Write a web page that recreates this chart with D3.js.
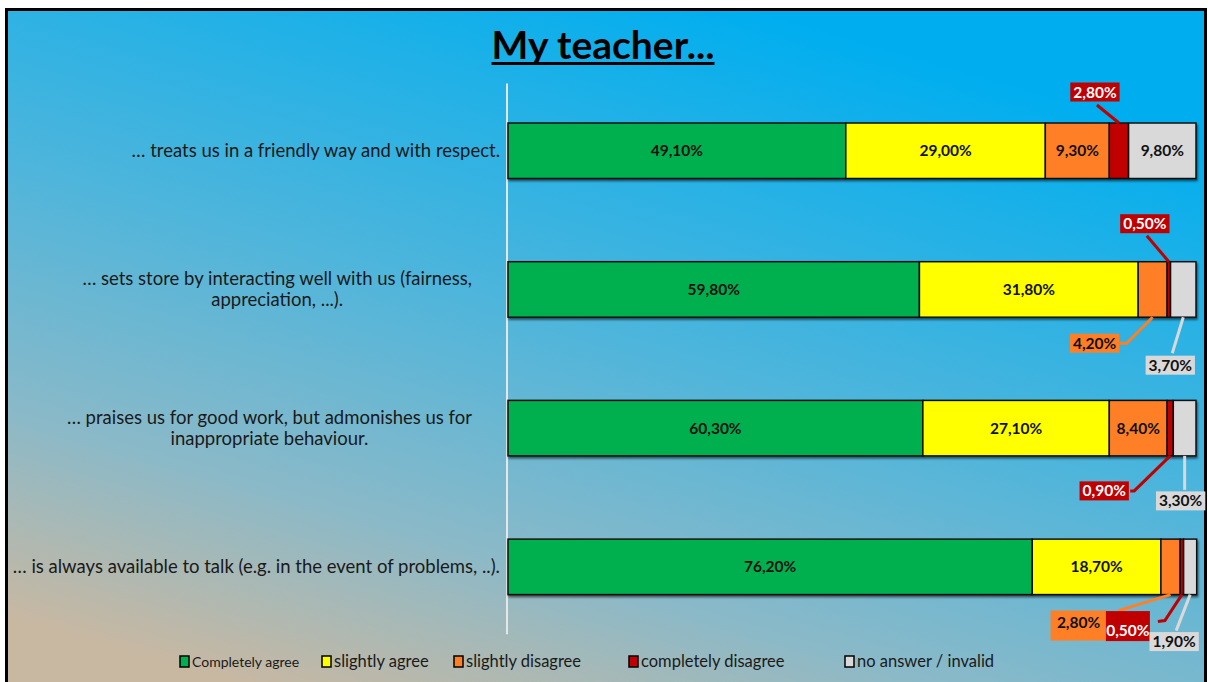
<!DOCTYPE html>
<html>
<head>
<meta charset="utf-8">
<script src="https://cdn.jsdelivr.net/npm/d3@7"></script>
<style>
  body { margin: 0; background: #fff; }
  text { font-family: Lato, "Open Sans", sans-serif; }
</style>
</head>
<body>
<div id="chart-area"></div>
<script>
// data
const categories = [
  "… treats us in a friendly way and with respect.",
  "… sets store by interacting well with us (fairness,|appreciation, ...).",
  "… praises us for good work, but admonishes us for|inappropriate behaviour.",
  "… is always available to talk (e.g. in the event of problems, ..)."
]
const completelyAgree = [49.1, 59.8, 60.3, 76.2]
const slightlyAgree = [29.0, 31.8, 27.1, 18.7]
const slightlyDisagree = [9.3, 4.2, 8.4, 2.8]
const completelyDisagree = [2.8, 0.5, 0.9, 0.5]
const noAnswer = [9.8, 3.7, 3.3, 1.9]
const seriesNames = ["Completely agree", "slightly agree", "slightly disagree", "completely disagree", "no answer / invalid"]
const seriesKeys = ["ca", "sa", "sd", "cd", "na"]
const colors = ["#00b050", "#ffff00", "#ff7f27", "#c00000", "#d9d9d9"]

const WIDTH = 1208
const HEIGHT = 682

const svg = d3.select("#chart-area").append("svg")
  .attr("width", WIDTH)
  .attr("height", HEIGHT)

const defs = svg.append("defs")
const grad = defs.append("linearGradient")
  .attr("id", "bg")
  .attr("gradientUnits", "userSpaceOnUse")
  .attr("x1", 720).attr("y1", 0)
  .attr("x2", 500).attr("y2", 760)
grad.append("stop").attr("offset", 0).attr("stop-color", "#00aeef")
grad.append("stop").attr("offset", 0.45).attr("stop-color", "#4fb5db")
grad.append("stop").attr("offset", 0.75).attr("stop-color", "#8ab9c8")
grad.append("stop").attr("offset", 1).attr("stop-color", "#c8b8a2")

const shadow = defs.append("filter").attr("id", "shadow")
  .attr("x", "-5%").attr("y", "-20%").attr("width", "110%").attr("height", "150%")
shadow.append("feDropShadow")
  .attr("dx", 1).attr("dy", 2).attr("stdDeviation", 1)
  .attr("flood-color", "#000").attr("flood-opacity", 0.55)

// frame
svg.append("rect")
  .attr("x", 6.5).attr("y", 9.5)
  .attr("width", 1199).attr("height", 700)
  .attr("fill", "url(#bg)")
  .attr("stroke", "#000")
  .attr("stroke-width", 3)

// title
const title = svg.append("text")
  .attr("x", 603).attr("y", 59)
  .attr("text-anchor", "middle")
  .attr("font-size", 39)
  .attr("font-weight", "bold")
  .attr("fill", "#000")
  .text("My teacher...")
const tb = title.node().getBBox()
svg.append("rect")
  .attr("x", tb.x).attr("y", 62)
  .attr("width", tb.width).attr("height", 3)
  .attr("fill", "#000")

// scales
const x = d3.scaleLinear()
  .domain([0, 100])
  .range([508, 1196])

const y = d3.scaleBand()
  .domain(categories)
  .range([81.4, 636.2])
  .paddingInner(0.6)
  .paddingOuter(0.3)

const table = categories.map((c, i) => ({
  cat: c,
  ca: completelyAgree[i],
  sa: slightlyAgree[i],
  sd: slightlyDisagree[i],
  cd: completelyDisagree[i],
  na: noAnswer[i]
}))
const stacked = d3.stack().keys(seriesKeys)(table)

const locale = d3.formatLocale({ decimal: ",", thousands: ".", grouping: [3], currency: ["", ""] })
const fmt = v => locale.format(".2f")(v) + "%"

// axis line
const yAxisCall = d3.axisLeft(y).tickSize(0).tickFormat("")
const yAxis = svg.append("g")
  .attr("transform", "translate(507, 0)")
  .call(yAxisCall)
yAxis.select(".domain")
  .attr("stroke", "#e6e6e6")
  .attr("stroke-width", 2)
  .attr("d", `M0,${y.range()[0] + 2}V${y.range()[1] - 2}`)

// category labels
categories.forEach(c => {
  const lines = c.split("|")
  const t = svg.append("text")
    .attr("font-size", 18.5)
    .attr("fill", "#1a1a1a")
  const cy = y(c) + y.bandwidth() / 2
  const lh = 21
  const top = cy - (lines.length - 1) * lh / 2 + 6
  lines.forEach((l, i) => {
    t.append("tspan").attr("x", 0).attr("y", top + i * lh).text(l)
  })
  let maxW = 0
  t.selectAll("tspan").each(function () { maxW = Math.max(maxW, this.getComputedTextLength()) })
  const right = lines.length > 1 ? 472 : 500
  t.attr("text-anchor", "middle")
  t.selectAll("tspan").attr("x", right - maxW / 2)
})

// bars
const layers = svg.append("g").attr("filter", "url(#shadow)")
  .selectAll("g")
  .data(stacked)
  .enter().append("g")
  .attr("fill", (d, i) => colors[i])

layers.selectAll("rect")
  .data(d => d)
  .enter().append("rect")
  .attr("x", d => x(d[0]))
  .attr("y", d => y(d.data.cat))
  .attr("width", d => x(d[1]) - x(d[0]))
  .attr("height", y.bandwidth())
  .attr("stroke", "#111")
  .attr("stroke-width", 1.5)

// inline labels
const labels = svg.append("g")
stacked.forEach(layer => {
  layer.forEach(d => {
    const v = d[1] - d[0]
    if (v < 5) return
    labels.append("text")
      .attr("x", (x(d[0]) + x(d[1])) / 2)
      .attr("y", y(d.data.cat) + y.bandwidth() / 2 + 5.5)
      .attr("text-anchor", "middle")
      .attr("font-size", 15.5)
      .attr("font-weight", "bold")
      .attr("fill", "#111")
      .text(fmt(v))
  })
})

// callouts for the thin segments (offsets relative to the segment edge)
const callouts = [
  { row: 0, key: "cd", side: "top", lx: -24, ly: -31, line: [[-22, -18]] },
  { row: 1, key: "cd", side: "top", lx: -24, ly: -38, line: [[-22, -26]] },
  { row: 1, key: "sd", side: "bottom", lx: -58, ly: 26, line: [[-26, 26], [-33, 26]] },
  { row: 1, key: "na", side: "bottom", lx: -13, ly: 48, line: [[-11, 36]] },
  { row: 2, key: "cd", side: "bottom", lx: -66, ly: 35, line: [[-36, 35], [-40, 35]] },
  { row: 2, key: "na", side: "bottom", lx: -4, ly: 45, line: [[0, 34]] },
  { row: 3, key: "sd", side: "bottom", lx: -92, ly: 31, w: 56, h: 30, tdy: -3, line: [[-52, 16]] },
  { row: 3, key: "cd", side: "bottom", lx: -54, ly: 31.5, w: 44, h: 30, tdy: 4, line: [[-17, 26], [-24, 27]] },
  { row: 3, key: "na", side: "bottom", lx: -16, ly: 47, line: [[-14, 36]] }
]

const co = svg.append("g")
callouts.forEach(c => {
  const si = seriesKeys.indexOf(c.key)
  const d = stacked[si][c.row]
  const ax = (x(d[0]) + x(d[1])) / 2
  const ay = c.side === "top" ? y(d.data.cat) : y(d.data.cat) + y.bandwidth()
  const pts = [[ax, ay]].concat(c.line.map(p => [ax + p[0], ay + p[1]]))
  co.append("path")
    .attr("d", d3.line()(pts))
    .attr("fill", "none")
    .attr("stroke", colors[si])
    .attr("stroke-width", 3)
})
callouts.forEach(c => {
  const si = seriesKeys.indexOf(c.key)
  const d = stacked[si][c.row]
  const ax = (x(d[0]) + x(d[1])) / 2
  const ay = c.side === "top" ? y(d.data.cat) : y(d.data.cat) + y.bandwidth()
  const cx = ax + c.lx
  const cy = ay + c.ly
  const g = co.append("g")
  const box = g.append("rect").attr("fill", colors[si])
  const t = g.append("text")
    .attr("x", cx)
    .attr("y", cy + 5.5 + (c.tdy || 0))
    .attr("text-anchor", "middle")
    .attr("font-size", 15.5)
    .attr("font-weight", "bold")
    .attr("fill", si === 3 ? "#fff" : "#111")
    .text(fmt(d[1] - d[0]))
  const w = c.w || t.node().getComputedTextLength() + 6
  const h = c.h || 19
  box.attr("x", cx - w / 2).attr("y", cy - h / 2).attr("width", w).attr("height", h)
})

// legend
const legendX = [180, 322, 454, 629, 845]
const legendSize = [14, 16.5, 16.5, 16.5, 16.5]
const legend = svg.append("g")
seriesNames.forEach((n, i) => {
  legend.append("rect")
    .attr("x", legendX[i]).attr("y", 656)
    .attr("width", 9).attr("height", 11)
    .attr("fill", colors[i])
    .attr("stroke", "#000")
    .attr("stroke-width", 1.5)
  legend.append("text")
    .attr("x", legendX[i] + 12).attr("y", 667)
    .attr("font-size", legendSize[i])
    .attr("fill", "#1a1a1a")
    .text(n)
})
</script>
</body>
</html>
